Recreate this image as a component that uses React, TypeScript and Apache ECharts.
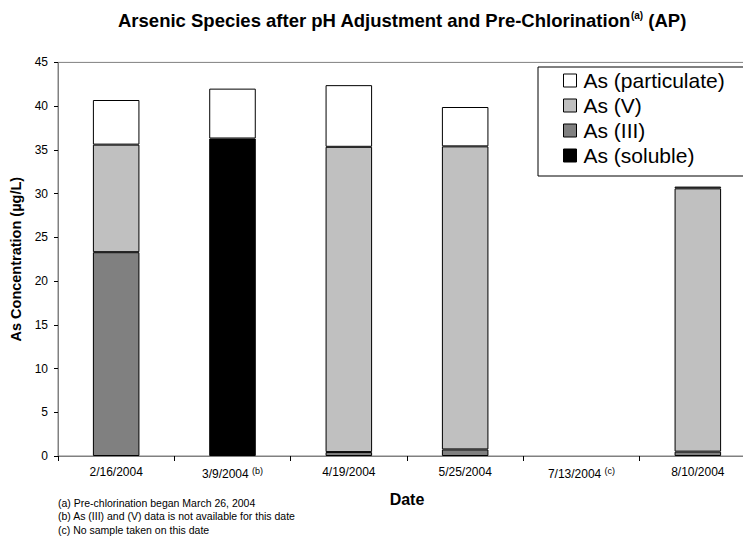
import React, { useEffect, useRef } from "react";
import * as echarts from "echarts";

const categories = ["2/16/2004", "3/9/2004", "4/19/2004", "5/25/2004", "7/13/2004", "8/10/2004"];
const categoryNotes = ["", "(b)", "", "", "(c)", ""];
const asIII = [23.3, null, 0.45, 0.75, null, 0.5];
const asSoluble = [null, 36.3, null, null, null, null];
const asV = [12.3, null, 34.9, 34.65, null, 30.1];
const asParticulate = [5.1, 5.7, 7.05, 4.5, null, 0.2];
const footnotes = [
  "(a) Pre-chlorination began March 26, 2004",
  "(b) As (III) and (V) data is not available for this date",
  "(c) No sample taken on this date",
];
const FONT = "'Liberation Sans', Arial, sans-serif";

export default function App() {
  const ref = useRef<HTMLDivElement>(null);
  useEffect(() => {
    if (!ref.current) return;
    const chart = echarts.init(ref.current, null, { renderer: "svg" });
    const mk = (name: string, data: (number | null)[], color: string) => ({
      name,
      type: "bar",
      stack: "as",
      data,
      barWidth: "40%",
      itemStyle: { color, borderColor: "#000", borderWidth: 1 },
    });
    chart.setOption({
      animation: false,
      backgroundColor: "#fff",
      textStyle: { fontFamily: FONT },
      title: {
        text: "{t|Arsenic Species after pH Adjustment and Pre-Chlorination}{s|(a)}{t| (AP)}",
        left: 118,
        top: 10,
        padding: 0,
        textStyle: {
          rich: {
            t: { fontFamily: FONT, fontWeight: "bold", fontSize: 18.5, color: "#000" },
            s: { fontFamily: FONT, fontWeight: "bold", fontSize: 10, color: "#000", padding: [0, 0, 10, 0] },
          },
        },
      },
      legend: {
        orient: "vertical",
        left: 538,
        top: 67,
        data: ["As (particulate)", "As (V)", "As (III)", "As (soluble)"],
        borderColor: "#000",
        borderWidth: 1,
        padding: [3, 60, 10, 25],
        itemWidth: 13,
        itemHeight: 13,
        itemGap: 4,
        icon: "rect",
        itemStyle: { borderColor: "#000", borderWidth: 1 },
        textStyle: { fontFamily: FONT, fontSize: 21, color: "#000", lineHeight: 21, padding: [0, 0, 0, 2] },
      },
      grid: {
        left: 58,
        top: 62.4,
        width: 698,
        bottom: 83,
        outerBoundsMode: "none",
        show: true,
        borderColor: "#808080",
        borderWidth: 1,
      },
      xAxis: {
        type: "category",
        data: categories,
        name: "Date",
        nameLocation: "middle",
        nameGap: 35,
        nameTextStyle: { fontFamily: FONT, fontWeight: "bold", fontSize: 16, color: "#000" },
        axisLine: { lineStyle: { color: "#808080", width: 1 } },
        axisTick: { show: true, length: 5, lineStyle: { color: "#000" } },
        axisLabel: {
          interval: 0,
          margin: 10,
          formatter: (v: string, i: number) =>
            categoryNotes[i] ? `{l|${v}} {n|${categoryNotes[i]}}` : `{l|${v}}`,
          rich: {
            l: { fontFamily: FONT, fontSize: 12, color: "#000" },
            n: { fontFamily: FONT, fontSize: 9, color: "#000", padding: [0, 0, 7, 0] },
          },
        },
      },
      yAxis: {
        type: "value",
        min: 0,
        max: 45,
        interval: 5,
        name: "As Concentration (µg/L)",
        nameLocation: "middle",
        nameGap: 31,
        nameTextStyle: { fontFamily: FONT, fontWeight: "bold", fontSize: 14.5, color: "#000" },
        axisLine: { show: true, lineStyle: { color: "#808080", width: 1 } },
        axisTick: { show: true, length: 4, lineStyle: { color: "#000" } },
        axisLabel: { fontFamily: FONT, fontSize: 12, color: "#000", margin: 10 },
        splitLine: { show: false },
      },
      series: [
        mk("As (III)", asIII, "#808080"),
        mk("As (soluble)", asSoluble, "#000000"),
        mk("As (V)", asV, "#C0C0C0"),
        mk("As (particulate)", asParticulate, "#FFFFFF"),
      ],
      graphic: footnotes.map((t, i) => ({
        type: "text",
        x: 58,
        y: 502.5 + i * 13.5,
        style: { text: t, fontFamily: FONT, fontSize: 10.5, fill: "#000", verticalAlign: "middle" },
      })),
    });
    return () => chart.dispose();
  }, []);
  return (
    <div
      ref={ref}
      style={{ position: "fixed", left: 0, top: 0, width: 743, height: 539, background: "#fff" }}
    />
  );
}
